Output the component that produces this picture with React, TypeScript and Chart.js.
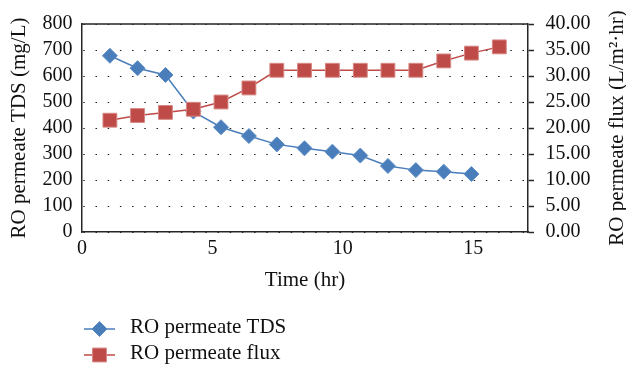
import React, { useEffect, useRef } from "react";
import { Chart, registerables } from "chart.js";
import { drawPoint } from "chart.js/helpers";

Chart.register(...registerables);

// ---- data ----
const timeHr = [1.07, 2.13, 3.2, 4.27, 5.33, 6.4, 7.47, 8.53, 9.6, 10.67, 11.73, 12.8, 13.87, 14.93, 16.0];
const tdsValues = [678, 630, 604, 463, 403, 369, 337, 322, 309, 294, 254, 238, 232, 223];
const fluxValues = [21.5, 22.4, 23.0, 23.6, 25.0, 27.7, 31.1, 31.1, 31.1, 31.1, 31.1, 31.1, 32.9, 34.4, 35.6];
const xTickValues = [0, 5, 10, 15];
const seriesLabels = ["RO permeate TDS", "RO permeate flux"];
const xTitle = "Time (hr)";
const leftTitle = "RO permeate TDS (mg/L)";
const rightTitle = "RO permeate flux (L/m\u00B2\u00B7hr)";

const FONT = '"Liberation Serif", "Times New Roman", serif';
const TEXT = "#111111";
const AXIS = "#262626";
const BLUE = "#4A7EBB";
const RED = "#BE4B48";

const frameTopPlugin = {
  id: "frameTop",
  afterDatasetsDraw(chart: any) {
    const { ctx, chartArea } = chart;
    ctx.save();
    ctx.strokeStyle = AXIS;
    ctx.lineWidth = 1.5;
    ctx.beginPath();
    ctx.moveTo(chartArea.left, chartArea.top);
    ctx.lineTo(chartArea.right, chartArea.top);
    ctx.stroke();
    ctx.restore();
  },
};

// right axis title, read bottom-to-top like the left one
const rightTitlePlugin = {
  id: "rightTitle",
  afterDraw(chart: any) {
    const { ctx, chartArea } = chart;
    const cy = (chartArea.top + chartArea.bottom) / 2;
    ctx.save();
    ctx.translate(chart.width - 9, cy);
    ctx.rotate(-Math.PI / 2);
    ctx.fillStyle = TEXT;
    ctx.font = `21px ${FONT}`;
    ctx.textAlign = "center";
    ctx.textBaseline = "middle";
    ctx.fillText(rightTitle, 0, 0);
    ctx.restore();
  },
};

const legendPlugin = {
  id: "stackedLegend",
  afterDraw(chart: any) {
    const { ctx } = chart;
    const rowY = [329, 355];
    chart.data.datasets.forEach((ds: any, i: number) => {
      const y = rowY[i];
      ctx.save();
      ctx.strokeStyle = ds.borderColor;
      ctx.lineWidth = ds.borderWidth;
      ctx.beginPath();
      ctx.moveTo(84, y);
      ctx.lineTo(115, y);
      ctx.stroke();
      ctx.fillStyle = ds.pointBackgroundColor;
      ctx.strokeStyle = ds.pointBorderColor;
      ctx.lineWidth = ds.pointBorderWidth;
      drawPoint(ctx, { pointStyle: ds.pointStyle, radius: ds.pointRadius, rotation: 0, borderWidth: ds.pointBorderWidth }, 99.5, y);
      ctx.fillStyle = TEXT;
      ctx.font = `21px ${FONT}`;
      ctx.textBaseline = "alphabetic";
      ctx.textAlign = "left";
      ctx.fillText(ds.label, 130, y + 4);
      ctx.restore();
    });
  },
};

export default function App() {
  const ref = useRef<HTMLCanvasElement | null>(null);

  useEffect(() => {
    document.body.style.margin = "0";
    const canvas = ref.current;
    if (!canvas) return;

    const tdsData = tdsValues.map((v, i) => ({ x: timeHr[i], y: v }));
    const fluxData = fluxValues.map((v, i) => ({ x: timeHr[i], y: v }));

    const chart = new Chart(canvas, {
      type: "line",
      data: {
        datasets: [
          {
            label: seriesLabels[0],
            data: tdsData,
            yAxisID: "y",
            borderColor: BLUE,
            borderWidth: 1.5,
            pointStyle: "rectRot",
            pointRadius: 7.5,
            pointBackgroundColor: BLUE,
            pointBorderColor: "#5B8CC6",
            pointBorderWidth: 1,
            tension: 0,
            order: 2,
          },
          {
            label: seriesLabels[1],
            data: fluxData,
            yAxisID: "y1",
            borderColor: RED,
            borderWidth: 1.5,
            pointStyle: "rect",
            pointRadius: 9.8,
            pointBackgroundColor: RED,
            pointBorderColor: "#D68784",
            pointBorderWidth: 1,
            tension: 0,
            order: 1,
          },
        ],
      },
      options: {
        responsive: false,
        animation: false,
        devicePixelRatio: 1,
        layout: { padding: { top: 24, left: 0, right: 0, bottom: 73 } },
        plugins: {
          legend: { display: false },
          tooltip: { enabled: false },
        },
        scales: {
          x: {
            type: "linear",
            min: 0,
            max: 17.1,
            afterBuildTicks: (scale: any) => {
              scale.ticks = xTickValues.map((v) => ({ value: v }));
            },
            afterFit: (scale: any) => {
              scale.height = 61;
            },
            grid: { display: false, drawTicks: false },
            border: { display: true, color: AXIS, width: 1.5 },
            ticks: {
              color: TEXT,
              font: { family: FONT, size: 20 },
              padding: 5,
              maxRotation: 0,
              autoSkip: false,
            },
            title: {
              display: true,
              text: xTitle,
              color: TEXT,
              font: { family: FONT, size: 21 },
              padding: { top: 0, bottom: 0 },
            },
          },
          y: {
            type: "linear",
            position: "left",
            min: 0,
            max: 800,
            afterFit: (scale: any) => {
              scale.width = 82;
            },
            grid: {
              display: true,
              drawOnChartArea: true,
              drawTicks: false,
              color: "#1a1a1a",
              lineWidth: 1,
            },
            border: { display: true, color: AXIS, width: 1.5, dash: [1.5, 10.7], dashOffset: 11.4 },
            ticks: {
              stepSize: 100,
              autoSkip: false,
              color: TEXT,
              font: { family: FONT, size: 20 },
              padding: 9.5,
            },
            title: {
              display: true,
              text: leftTitle,
              color: TEXT,
              font: { family: FONT, size: 21, lineHeight: 1.2 },
              padding: { top: 7, bottom: 0 },
            },
          },
          y1: {
            type: "linear",
            position: "right",
            min: 0,
            max: 40,
            afterFit: (scale: any) => {
              scale.width = 98;
            },
            grid: {
              display: true,
              drawOnChartArea: false,
              drawTicks: true,
              tickLength: 6,
              tickColor: AXIS,
              tickWidth: 1.5,
            },
            border: { display: true, color: AXIS, width: 1.5 },
            ticks: {
              stepSize: 5,
              autoSkip: false,
              color: TEXT,
              font: { family: FONT, size: 20 },
              padding: 11.5,
              callback: (v: any) => Number(v).toFixed(2),
            },
            title: { display: false },
          },
        },
      },
      plugins: [frameTopPlugin, rightTitlePlugin, legendPlugin],
    } as any);

    return () => chart.destroy();
  }, []);

  return (
    <div style={{ width: 626, height: 366 }}>
      <canvas ref={ref} width={626} height={366} style={{ display: "block" }} />
    </div>
  );
}
